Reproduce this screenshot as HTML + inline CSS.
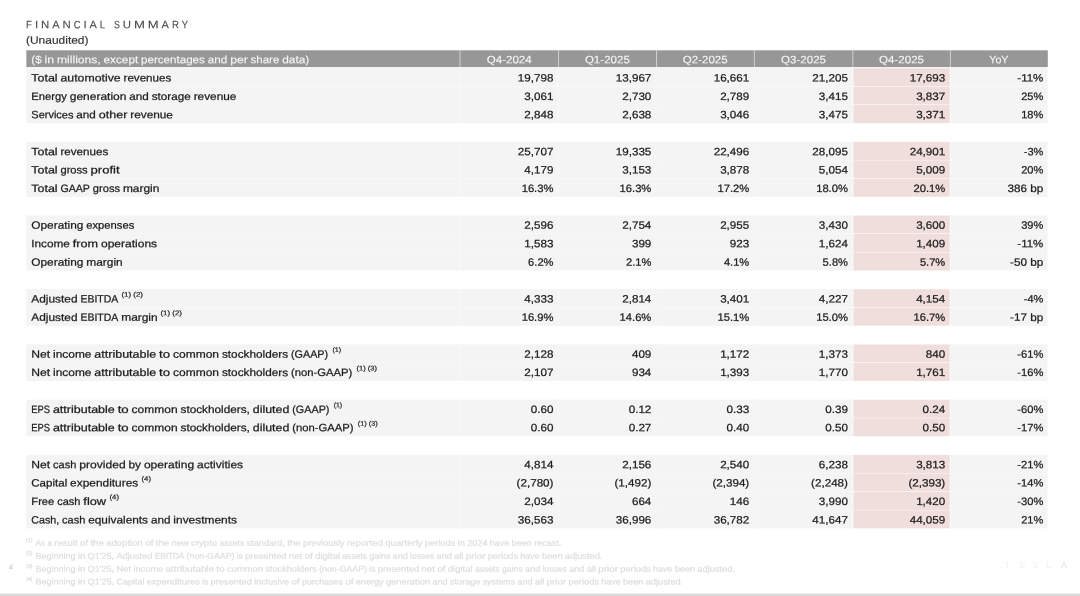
<!DOCTYPE html><html><head><meta charset="utf-8"><title>Financial Summary</title><style>
html,body{margin:0;padding:0;}
body{width:1080px;height:596px;background:#fff;position:relative;overflow:hidden;font-family:"Liberation Sans",sans-serif;color:#1b1b1b;}
.a{position:absolute;white-space:pre;}
.t{position:absolute;left:0;top:0;white-space:pre;height:16px;line-height:16px;transform-origin:0 0;-webkit-text-stroke:0.24px currentColor;text-rendering:geometricPrecision;}
</style></head><body>
<svg class="a" style="left:0;top:0" width="1080" height="596" viewBox="0 0 1080 596"><rect x="26.30" y="50.30" width="1021.50" height="16.80" fill="#979797"/><rect x="459.73" y="50.30" width="0.55" height="16.80" fill="#fff"/><rect x="558.12" y="50.30" width="0.55" height="16.80" fill="#fff"/><rect x="656.02" y="50.30" width="0.55" height="16.80" fill="#fff"/><rect x="753.93" y="50.30" width="0.55" height="16.80" fill="#fff"/><rect x="852.62" y="50.30" width="0.55" height="16.80" fill="#fff"/><rect x="949.93" y="50.30" width="0.55" height="16.80" fill="#fff"/><rect x="26.30" y="68.09" width="1021.20" height="18.24" fill="#f4f4f4"/><rect x="852.70" y="68.00" width="97.70" height="18.42" fill="#fff"/><rect x="853.40" y="68.22" width="96.30" height="17.97" fill="#efdedc"/><rect x="459.40" y="68.09" width="1.20" height="18.24" fill="#f7f7f7"/><rect x="557.80" y="68.09" width="1.20" height="18.24" fill="#f7f7f7"/><rect x="655.70" y="68.09" width="1.20" height="18.24" fill="#f7f7f7"/><rect x="753.60" y="68.09" width="1.20" height="18.24" fill="#f7f7f7"/><rect x="26.30" y="86.51" width="1021.20" height="18.24" fill="#f4f4f4"/><rect x="852.70" y="86.42" width="97.70" height="18.42" fill="#fff"/><rect x="853.40" y="86.64" width="96.30" height="17.97" fill="#efdedc"/><rect x="459.40" y="86.51" width="1.20" height="18.24" fill="#f7f7f7"/><rect x="557.80" y="86.51" width="1.20" height="18.24" fill="#f7f7f7"/><rect x="655.70" y="86.51" width="1.20" height="18.24" fill="#f7f7f7"/><rect x="753.60" y="86.51" width="1.20" height="18.24" fill="#f7f7f7"/><rect x="26.30" y="104.93" width="1021.20" height="18.24" fill="#f4f4f4"/><rect x="852.70" y="104.84" width="97.70" height="18.42" fill="#fff"/><rect x="853.40" y="105.06" width="96.30" height="17.97" fill="#efdedc"/><rect x="459.40" y="104.93" width="1.20" height="18.24" fill="#f7f7f7"/><rect x="557.80" y="104.93" width="1.20" height="18.24" fill="#f7f7f7"/><rect x="655.70" y="104.93" width="1.20" height="18.24" fill="#f7f7f7"/><rect x="753.60" y="104.93" width="1.20" height="18.24" fill="#f7f7f7"/><rect x="26.30" y="141.77" width="1021.20" height="18.24" fill="#f4f4f4"/><rect x="852.70" y="141.68" width="97.70" height="18.42" fill="#fff"/><rect x="853.40" y="141.91" width="96.30" height="17.97" fill="#efdedc"/><rect x="459.40" y="141.77" width="1.20" height="18.24" fill="#f7f7f7"/><rect x="557.80" y="141.77" width="1.20" height="18.24" fill="#f7f7f7"/><rect x="655.70" y="141.77" width="1.20" height="18.24" fill="#f7f7f7"/><rect x="753.60" y="141.77" width="1.20" height="18.24" fill="#f7f7f7"/><rect x="26.30" y="160.19" width="1021.20" height="18.24" fill="#f4f4f4"/><rect x="852.70" y="160.10" width="97.70" height="18.42" fill="#fff"/><rect x="853.40" y="160.33" width="96.30" height="17.97" fill="#efdedc"/><rect x="459.40" y="160.19" width="1.20" height="18.24" fill="#f7f7f7"/><rect x="557.80" y="160.19" width="1.20" height="18.24" fill="#f7f7f7"/><rect x="655.70" y="160.19" width="1.20" height="18.24" fill="#f7f7f7"/><rect x="753.60" y="160.19" width="1.20" height="18.24" fill="#f7f7f7"/><rect x="26.30" y="178.61" width="1021.20" height="18.24" fill="#f4f4f4"/><rect x="852.70" y="178.52" width="97.70" height="18.42" fill="#fff"/><rect x="853.40" y="178.75" width="96.30" height="17.97" fill="#efdedc"/><rect x="459.40" y="178.61" width="1.20" height="18.24" fill="#f7f7f7"/><rect x="557.80" y="178.61" width="1.20" height="18.24" fill="#f7f7f7"/><rect x="655.70" y="178.61" width="1.20" height="18.24" fill="#f7f7f7"/><rect x="753.60" y="178.61" width="1.20" height="18.24" fill="#f7f7f7"/><rect x="26.30" y="215.45" width="1021.20" height="18.24" fill="#f4f4f4"/><rect x="852.70" y="215.36" width="97.70" height="18.42" fill="#fff"/><rect x="853.40" y="215.59" width="96.30" height="17.97" fill="#efdedc"/><rect x="459.40" y="215.45" width="1.20" height="18.24" fill="#f7f7f7"/><rect x="557.80" y="215.45" width="1.20" height="18.24" fill="#f7f7f7"/><rect x="655.70" y="215.45" width="1.20" height="18.24" fill="#f7f7f7"/><rect x="753.60" y="215.45" width="1.20" height="18.24" fill="#f7f7f7"/><rect x="26.30" y="233.87" width="1021.20" height="18.24" fill="#f4f4f4"/><rect x="852.70" y="233.78" width="97.70" height="18.42" fill="#fff"/><rect x="853.40" y="234.01" width="96.30" height="17.97" fill="#efdedc"/><rect x="459.40" y="233.87" width="1.20" height="18.24" fill="#f7f7f7"/><rect x="557.80" y="233.87" width="1.20" height="18.24" fill="#f7f7f7"/><rect x="655.70" y="233.87" width="1.20" height="18.24" fill="#f7f7f7"/><rect x="753.60" y="233.87" width="1.20" height="18.24" fill="#f7f7f7"/><rect x="26.30" y="252.29" width="1021.20" height="18.24" fill="#f4f4f4"/><rect x="852.70" y="252.20" width="97.70" height="18.42" fill="#fff"/><rect x="853.40" y="252.43" width="96.30" height="17.97" fill="#efdedc"/><rect x="459.40" y="252.29" width="1.20" height="18.24" fill="#f7f7f7"/><rect x="557.80" y="252.29" width="1.20" height="18.24" fill="#f7f7f7"/><rect x="655.70" y="252.29" width="1.20" height="18.24" fill="#f7f7f7"/><rect x="753.60" y="252.29" width="1.20" height="18.24" fill="#f7f7f7"/><rect x="26.30" y="289.13" width="1021.20" height="18.24" fill="#f4f4f4"/><rect x="852.70" y="289.04" width="97.70" height="18.42" fill="#fff"/><rect x="853.40" y="289.27" width="96.30" height="17.97" fill="#efdedc"/><rect x="459.40" y="289.13" width="1.20" height="18.24" fill="#f7f7f7"/><rect x="557.80" y="289.13" width="1.20" height="18.24" fill="#f7f7f7"/><rect x="655.70" y="289.13" width="1.20" height="18.24" fill="#f7f7f7"/><rect x="753.60" y="289.13" width="1.20" height="18.24" fill="#f7f7f7"/><rect x="26.30" y="307.55" width="1021.20" height="18.24" fill="#f4f4f4"/><rect x="852.70" y="307.46" width="97.70" height="18.42" fill="#fff"/><rect x="853.40" y="307.69" width="96.30" height="17.97" fill="#efdedc"/><rect x="459.40" y="307.55" width="1.20" height="18.24" fill="#f7f7f7"/><rect x="557.80" y="307.55" width="1.20" height="18.24" fill="#f7f7f7"/><rect x="655.70" y="307.55" width="1.20" height="18.24" fill="#f7f7f7"/><rect x="753.60" y="307.55" width="1.20" height="18.24" fill="#f7f7f7"/><rect x="26.30" y="344.39" width="1021.20" height="18.24" fill="#f4f4f4"/><rect x="852.70" y="344.30" width="97.70" height="18.42" fill="#fff"/><rect x="853.40" y="344.53" width="96.30" height="17.97" fill="#efdedc"/><rect x="459.40" y="344.39" width="1.20" height="18.24" fill="#f7f7f7"/><rect x="557.80" y="344.39" width="1.20" height="18.24" fill="#f7f7f7"/><rect x="655.70" y="344.39" width="1.20" height="18.24" fill="#f7f7f7"/><rect x="753.60" y="344.39" width="1.20" height="18.24" fill="#f7f7f7"/><rect x="26.30" y="362.81" width="1021.20" height="18.24" fill="#f4f4f4"/><rect x="852.70" y="362.72" width="97.70" height="18.42" fill="#fff"/><rect x="853.40" y="362.95" width="96.30" height="17.97" fill="#efdedc"/><rect x="459.40" y="362.81" width="1.20" height="18.24" fill="#f7f7f7"/><rect x="557.80" y="362.81" width="1.20" height="18.24" fill="#f7f7f7"/><rect x="655.70" y="362.81" width="1.20" height="18.24" fill="#f7f7f7"/><rect x="753.60" y="362.81" width="1.20" height="18.24" fill="#f7f7f7"/><rect x="26.30" y="399.65" width="1021.20" height="18.24" fill="#f4f4f4"/><rect x="852.70" y="399.56" width="97.70" height="18.42" fill="#fff"/><rect x="853.40" y="399.79" width="96.30" height="17.97" fill="#efdedc"/><rect x="459.40" y="399.65" width="1.20" height="18.24" fill="#f7f7f7"/><rect x="557.80" y="399.65" width="1.20" height="18.24" fill="#f7f7f7"/><rect x="655.70" y="399.65" width="1.20" height="18.24" fill="#f7f7f7"/><rect x="753.60" y="399.65" width="1.20" height="18.24" fill="#f7f7f7"/><rect x="26.30" y="418.07" width="1021.20" height="18.24" fill="#f4f4f4"/><rect x="852.70" y="417.98" width="97.70" height="18.42" fill="#fff"/><rect x="853.40" y="418.21" width="96.30" height="17.97" fill="#efdedc"/><rect x="459.40" y="418.07" width="1.20" height="18.24" fill="#f7f7f7"/><rect x="557.80" y="418.07" width="1.20" height="18.24" fill="#f7f7f7"/><rect x="655.70" y="418.07" width="1.20" height="18.24" fill="#f7f7f7"/><rect x="753.60" y="418.07" width="1.20" height="18.24" fill="#f7f7f7"/><rect x="26.30" y="454.91" width="1021.20" height="18.24" fill="#f4f4f4"/><rect x="852.70" y="454.82" width="97.70" height="18.42" fill="#fff"/><rect x="853.40" y="455.05" width="96.30" height="17.97" fill="#efdedc"/><rect x="459.40" y="454.91" width="1.20" height="18.24" fill="#f7f7f7"/><rect x="557.80" y="454.91" width="1.20" height="18.24" fill="#f7f7f7"/><rect x="655.70" y="454.91" width="1.20" height="18.24" fill="#f7f7f7"/><rect x="753.60" y="454.91" width="1.20" height="18.24" fill="#f7f7f7"/><rect x="26.30" y="473.33" width="1021.20" height="18.24" fill="#f4f4f4"/><rect x="852.70" y="473.24" width="97.70" height="18.42" fill="#fff"/><rect x="853.40" y="473.47" width="96.30" height="17.97" fill="#efdedc"/><rect x="459.40" y="473.33" width="1.20" height="18.24" fill="#f7f7f7"/><rect x="557.80" y="473.33" width="1.20" height="18.24" fill="#f7f7f7"/><rect x="655.70" y="473.33" width="1.20" height="18.24" fill="#f7f7f7"/><rect x="753.60" y="473.33" width="1.20" height="18.24" fill="#f7f7f7"/><rect x="26.30" y="491.75" width="1021.20" height="18.24" fill="#f4f4f4"/><rect x="852.70" y="491.66" width="97.70" height="18.42" fill="#fff"/><rect x="853.40" y="491.89" width="96.30" height="17.97" fill="#efdedc"/><rect x="459.40" y="491.75" width="1.20" height="18.24" fill="#f7f7f7"/><rect x="557.80" y="491.75" width="1.20" height="18.24" fill="#f7f7f7"/><rect x="655.70" y="491.75" width="1.20" height="18.24" fill="#f7f7f7"/><rect x="753.60" y="491.75" width="1.20" height="18.24" fill="#f7f7f7"/><rect x="26.30" y="510.17" width="1021.20" height="18.24" fill="#f4f4f4"/><rect x="852.70" y="510.08" width="97.70" height="18.42" fill="#fff"/><rect x="853.40" y="510.31" width="96.30" height="17.97" fill="#efdedc"/><rect x="459.40" y="510.17" width="1.20" height="18.24" fill="#f7f7f7"/><rect x="557.80" y="510.17" width="1.20" height="18.24" fill="#f7f7f7"/><rect x="655.70" y="510.17" width="1.20" height="18.24" fill="#f7f7f7"/><rect x="753.60" y="510.17" width="1.20" height="18.24" fill="#f7f7f7"/><rect x="0.00" y="593.50" width="1080.00" height="2.50" fill="#dbdbdb"/></svg>
<div class="a" id="txt" style="left:0;top:0;width:1080px;height:596px;will-change:transform;filter:blur(0.35px)">
<div class="t" style="font-size:10.7px;transform:translate(26.10px,17.24px) scaleX(0.8991) rotate(0.03deg);color:#484848;-webkit-text-stroke:0.1px currentColor;">F</div>
<div class="t" style="font-size:10.7px;transform:translate(34.89px,17.24px) scaleX(1.0789) rotate(0.03deg);color:#484848;-webkit-text-stroke:0.1px currentColor;">I</div>
<div class="t" style="font-size:10.7px;transform:translate(41.03px,17.24px) scaleX(1.0688) rotate(0.03deg);color:#484848;-webkit-text-stroke:0.1px currentColor;">N</div>
<div class="t" style="font-size:10.7px;transform:translate(52.20px,17.24px) scaleX(1.0356) rotate(0.03deg);color:#484848;-webkit-text-stroke:0.1px currentColor;">A</div>
<div class="t" style="font-size:10.7px;transform:translate(62.52px,17.24px) scaleX(1.0688) rotate(0.03deg);color:#484848;-webkit-text-stroke:0.1px currentColor;">N</div>
<div class="t" style="font-size:10.7px;transform:translate(73.69px,17.24px) scaleX(0.8828) rotate(0.03deg);color:#484848;-webkit-text-stroke:0.1px currentColor;">C</div>
<div class="t" style="font-size:10.7px;transform:translate(83.42px,17.24px) scaleX(1.0789) rotate(0.03deg);color:#484848;-webkit-text-stroke:0.1px currentColor;">I</div>
<div class="t" style="font-size:10.7px;transform:translate(89.56px,17.24px) scaleX(1.0356) rotate(0.03deg);color:#484848;-webkit-text-stroke:0.1px currentColor;">A</div>
<div class="t" style="font-size:10.7px;transform:translate(99.87px,17.24px) scaleX(0.9025) rotate(0.03deg);color:#484848;-webkit-text-stroke:0.1px currentColor;">L</div>
<div class="t" style="font-size:10.7px;transform:translate(113.98px,17.24px) scaleX(0.8223) rotate(0.03deg);color:#484848;-webkit-text-stroke:0.1px currentColor;">S</div>
<div class="t" style="font-size:10.7px;transform:translate(122.77px,17.24px) scaleX(1.0623) rotate(0.03deg);color:#484848;-webkit-text-stroke:0.1px currentColor;">U</div>
<div class="t" style="font-size:10.7px;transform:translate(133.89px,17.24px) scaleX(1.2269) rotate(0.03deg);color:#484848;-webkit-text-stroke:0.1px currentColor;">M</div>
<div class="t" style="font-size:10.7px;transform:translate(147.74px,17.24px) scaleX(1.2269) rotate(0.03deg);color:#484848;-webkit-text-stroke:0.1px currentColor;">M</div>
<div class="t" style="font-size:10.7px;transform:translate(161.58px,17.24px) scaleX(1.0356) rotate(0.03deg);color:#484848;-webkit-text-stroke:0.1px currentColor;">A</div>
<div class="t" style="font-size:10.7px;transform:translate(171.90px,17.24px) scaleX(0.8990) rotate(0.03deg);color:#484848;-webkit-text-stroke:0.1px currentColor;">R</div>
<div class="t" style="font-size:10.7px;transform:translate(181.76px,17.24px) scaleX(0.8722) rotate(0.03deg);color:#484848;-webkit-text-stroke:0.1px currentColor;">Y</div>
<div class="t" style="font-size:10.7px;transform:translate(26.00px,32.64px) scaleX(1.1192) rotate(0.03deg);color:#303030;-webkit-text-stroke:0.15px currentColor;">(Unaudited)</div>
<div class="t" style="font-size:10.7px;transform:translate(31.30px,52.19px) scaleX(1.0880) rotate(0.03deg);color:#f6f6f6;-webkit-text-stroke:0.12px currentColor;">($</div>
<div class="t" style="font-size:10.7px;transform:translate(44.54px,52.19px) scaleX(1.1584) rotate(0.03deg);color:#f6f6f6;-webkit-text-stroke:0.12px currentColor;">in</div>
<div class="t" style="font-size:10.7px;transform:translate(57.08px,52.19px) scaleX(1.1288) rotate(0.03deg);color:#f6f6f6;-webkit-text-stroke:0.12px currentColor;">millions,</div>
<div class="t" style="font-size:10.7px;transform:translate(103.55px,52.19px) scaleX(1.1001) rotate(0.03deg);color:#f6f6f6;-webkit-text-stroke:0.12px currentColor;">except</div>
<div class="t" style="font-size:10.7px;transform:translate(141.09px,52.19px) scaleX(1.0842) rotate(0.03deg);color:#f6f6f6;-webkit-text-stroke:0.12px currentColor;">percentages</div>
<div class="t" style="font-size:10.7px;transform:translate(207.76px,52.19px) scaleX(1.0957) rotate(0.03deg);color:#f6f6f6;-webkit-text-stroke:0.12px currentColor;">and</div>
<div class="t" style="font-size:10.7px;transform:translate(230.20px,52.19px) scaleX(1.1343) rotate(0.03deg);color:#f6f6f6;-webkit-text-stroke:0.12px currentColor;">per</div>
<div class="t" style="font-size:10.7px;transform:translate(250.62px,52.19px) scaleX(1.0710) rotate(0.03deg);color:#f6f6f6;-webkit-text-stroke:0.12px currentColor;">share</div>
<div class="t" style="font-size:10.7px;transform:translate(282.16px,52.19px) scaleX(1.1124) rotate(0.03deg);color:#f6f6f6;-webkit-text-stroke:0.12px currentColor;">data)</div>
<div class="t" style="font-size:10.7px;transform:translate(486.75px,52.19px) scaleX(1.0795) rotate(0.03deg);color:#f6f6f6;-webkit-text-stroke:0.12px currentColor;">Q4-2024</div>
<div class="t" style="font-size:10.7px;transform:translate(584.90px,52.19px) scaleX(1.0795) rotate(0.03deg);color:#f6f6f6;-webkit-text-stroke:0.12px currentColor;">Q1-2025</div>
<div class="t" style="font-size:10.7px;transform:translate(682.80px,52.19px) scaleX(1.0795) rotate(0.03deg);color:#f6f6f6;-webkit-text-stroke:0.12px currentColor;">Q2-2025</div>
<div class="t" style="font-size:10.7px;transform:translate(781.10px,52.19px) scaleX(1.0795) rotate(0.03deg);color:#f6f6f6;-webkit-text-stroke:0.12px currentColor;">Q3-2025</div>
<div class="t" style="font-size:10.7px;transform:translate(879.10px,52.19px) scaleX(1.0795) rotate(0.03deg);color:#f6f6f6;-webkit-text-stroke:0.12px currentColor;">Q4-2025</div>
<div class="t" style="font-size:10.7px;transform:translate(989.25px,52.19px) scaleX(0.9988) rotate(0.03deg);color:#f6f6f6;-webkit-text-stroke:0.12px currentColor;">YoY</div>
<div class="t" style="font-size:10.7px;transform:translate(31.30px,70.54px) scaleX(1.1650) rotate(0.03deg);">Total</div>
<div class="t" style="font-size:10.7px;transform:translate(60.49px,70.54px) scaleX(1.1505) rotate(0.03deg);">automotive</div>
<div class="t" style="font-size:10.7px;transform:translate(123.53px,70.54px) scaleX(1.0856) rotate(0.03deg);">revenues</div>
<div class="t" style="font-size:10.7px;transform:translate(517.87px,70.54px) scaleX(1.0878) rotate(0.03deg);">19,798</div>
<div class="t" style="font-size:10.7px;transform:translate(615.77px,70.54px) scaleX(1.0878) rotate(0.03deg);">13,967</div>
<div class="t" style="font-size:10.7px;transform:translate(713.67px,70.54px) scaleX(1.0878) rotate(0.03deg);">16,661</div>
<div class="t" style="font-size:10.7px;transform:translate(812.37px,70.54px) scaleX(1.0878) rotate(0.03deg);">21,205</div>
<div class="t" style="font-size:10.7px;transform:translate(909.67px,70.54px) scaleX(1.0878) rotate(0.03deg);">17,693</div>
<div class="t" style="font-size:10.7px;transform:translate(1017.30px,70.54px) scaleX(1.0765) rotate(0.03deg);">-11%</div>
<div class="t" style="font-size:10.7px;transform:translate(31.30px,88.95px) scaleX(1.0500) rotate(0.03deg);">Energy</div>
<div class="t" style="font-size:10.7px;transform:translate(69.76px,88.95px) scaleX(1.1223) rotate(0.03deg);">generation</div>
<div class="t" style="font-size:10.7px;transform:translate(129.34px,88.95px) scaleX(1.0957) rotate(0.03deg);">and</div>
<div class="t" style="font-size:10.7px;transform:translate(151.78px,88.95px) scaleX(1.0929) rotate(0.03deg);">storage</div>
<div class="t" style="font-size:10.7px;transform:translate(193.64px,88.95px) scaleX(1.1064) rotate(0.03deg);">revenue</div>
<div class="t" style="font-size:10.7px;transform:translate(524.35px,88.95px) scaleX(1.0878) rotate(0.03deg);">3,061</div>
<div class="t" style="font-size:10.7px;transform:translate(622.25px,88.95px) scaleX(1.0878) rotate(0.03deg);">2,730</div>
<div class="t" style="font-size:10.7px;transform:translate(720.15px,88.95px) scaleX(1.0878) rotate(0.03deg);">2,789</div>
<div class="t" style="font-size:10.7px;transform:translate(818.85px,88.95px) scaleX(1.0878) rotate(0.03deg);">3,415</div>
<div class="t" style="font-size:10.7px;transform:translate(916.15px,88.95px) scaleX(1.0878) rotate(0.03deg);">3,837</div>
<div class="t" style="font-size:10.7px;transform:translate(1021.21px,88.95px) scaleX(1.0320) rotate(0.03deg);">25%</div>
<div class="t" style="font-size:10.7px;transform:translate(31.30px,107.36px) scaleX(1.0285) rotate(0.03deg);">Services</div>
<div class="t" style="font-size:10.7px;transform:translate(76.34px,107.36px) scaleX(1.0957) rotate(0.03deg);">and</div>
<div class="t" style="font-size:10.7px;transform:translate(98.78px,107.36px) scaleX(1.1712) rotate(0.03deg);">other</div>
<div class="t" style="font-size:10.7px;transform:translate(130.22px,107.36px) scaleX(1.1064) rotate(0.03deg);">revenue</div>
<div class="t" style="font-size:10.7px;transform:translate(524.35px,107.36px) scaleX(1.0878) rotate(0.03deg);">2,848</div>
<div class="t" style="font-size:10.7px;transform:translate(622.25px,107.36px) scaleX(1.0878) rotate(0.03deg);">2,638</div>
<div class="t" style="font-size:10.7px;transform:translate(720.15px,107.36px) scaleX(1.0878) rotate(0.03deg);">3,046</div>
<div class="t" style="font-size:10.7px;transform:translate(818.85px,107.36px) scaleX(1.0878) rotate(0.03deg);">3,475</div>
<div class="t" style="font-size:10.7px;transform:translate(916.15px,107.36px) scaleX(1.0878) rotate(0.03deg);">3,371</div>
<div class="t" style="font-size:10.7px;transform:translate(1021.21px,107.36px) scaleX(1.0320) rotate(0.03deg);">18%</div>
<div class="t" style="font-size:10.7px;transform:translate(31.30px,144.18px) scaleX(1.1650) rotate(0.03deg);">Total</div>
<div class="t" style="font-size:10.7px;transform:translate(60.49px,144.18px) scaleX(1.0856) rotate(0.03deg);">revenues</div>
<div class="t" style="font-size:10.7px;transform:translate(517.87px,144.18px) scaleX(1.0878) rotate(0.03deg);">25,707</div>
<div class="t" style="font-size:10.7px;transform:translate(615.77px,144.18px) scaleX(1.0878) rotate(0.03deg);">19,335</div>
<div class="t" style="font-size:10.7px;transform:translate(713.67px,144.18px) scaleX(1.0878) rotate(0.03deg);">22,496</div>
<div class="t" style="font-size:10.7px;transform:translate(812.37px,144.18px) scaleX(1.0878) rotate(0.03deg);">28,095</div>
<div class="t" style="font-size:10.7px;transform:translate(909.67px,144.18px) scaleX(1.0878) rotate(0.03deg);">24,901</div>
<div class="t" style="font-size:10.7px;transform:translate(1023.77px,144.18px) scaleX(1.0268) rotate(0.03deg);">-3%</div>
<div class="t" style="font-size:10.7px;transform:translate(31.30px,162.59px) scaleX(1.1650) rotate(0.03deg);">Total</div>
<div class="t" style="font-size:10.7px;transform:translate(60.49px,162.59px) scaleX(1.0408) rotate(0.03deg);">gross</div>
<div class="t" style="font-size:10.7px;transform:translate(90.59px,162.59px) scaleX(1.2212) rotate(0.03deg);">profit</div>
<div class="t" style="font-size:10.7px;transform:translate(524.35px,162.59px) scaleX(1.0878) rotate(0.03deg);">4,179</div>
<div class="t" style="font-size:10.7px;transform:translate(622.25px,162.59px) scaleX(1.0878) rotate(0.03deg);">3,153</div>
<div class="t" style="font-size:10.7px;transform:translate(720.15px,162.59px) scaleX(1.0878) rotate(0.03deg);">3,878</div>
<div class="t" style="font-size:10.7px;transform:translate(818.85px,162.59px) scaleX(1.0878) rotate(0.03deg);">5,054</div>
<div class="t" style="font-size:10.7px;transform:translate(916.15px,162.59px) scaleX(1.0878) rotate(0.03deg);">5,009</div>
<div class="t" style="font-size:10.7px;transform:translate(1021.21px,162.59px) scaleX(1.0320) rotate(0.03deg);">20%</div>
<div class="t" style="font-size:10.7px;transform:translate(31.30px,181.00px) scaleX(1.1650) rotate(0.03deg);">Total</div>
<div class="t" style="font-size:10.7px;transform:translate(60.49px,181.00px) scaleX(0.9916) rotate(0.03deg);">GAAP</div>
<div class="t" style="font-size:10.7px;transform:translate(92.83px,181.00px) scaleX(1.0408) rotate(0.03deg);">gross</div>
<div class="t" style="font-size:10.7px;transform:translate(122.93px,181.00px) scaleX(1.1156) rotate(0.03deg);">margin</div>
<div class="t" style="font-size:10.7px;transform:translate(521.66px,181.00px) scaleX(1.0489) rotate(0.03deg);">16.3%</div>
<div class="t" style="font-size:10.7px;transform:translate(619.56px,181.00px) scaleX(1.0489) rotate(0.03deg);">16.3%</div>
<div class="t" style="font-size:10.7px;transform:translate(717.46px,181.00px) scaleX(1.0489) rotate(0.03deg);">17.2%</div>
<div class="t" style="font-size:10.7px;transform:translate(816.16px,181.00px) scaleX(1.0489) rotate(0.03deg);">18.0%</div>
<div class="t" style="font-size:10.7px;transform:translate(913.46px,181.00px) scaleX(1.0489) rotate(0.03deg);">20.1%</div>
<div class="t" style="font-size:10.7px;transform:translate(1007.55px,181.00px) scaleX(1.0932) rotate(0.03deg);">386 bp</div>
<div class="t" style="font-size:10.7px;transform:translate(31.30px,217.82px) scaleX(1.1091) rotate(0.03deg);">Operating</div>
<div class="t" style="font-size:10.7px;transform:translate(86.25px,217.82px) scaleX(1.0496) rotate(0.03deg);">expenses</div>
<div class="t" style="font-size:10.7px;transform:translate(524.35px,217.82px) scaleX(1.0878) rotate(0.03deg);">2,596</div>
<div class="t" style="font-size:10.7px;transform:translate(622.25px,217.82px) scaleX(1.0878) rotate(0.03deg);">2,754</div>
<div class="t" style="font-size:10.7px;transform:translate(720.15px,217.82px) scaleX(1.0878) rotate(0.03deg);">2,955</div>
<div class="t" style="font-size:10.7px;transform:translate(818.85px,217.82px) scaleX(1.0878) rotate(0.03deg);">3,430</div>
<div class="t" style="font-size:10.7px;transform:translate(916.15px,217.82px) scaleX(1.0878) rotate(0.03deg);">3,600</div>
<div class="t" style="font-size:10.7px;transform:translate(1021.21px,217.82px) scaleX(1.0320) rotate(0.03deg);">39%</div>
<div class="t" style="font-size:10.7px;transform:translate(31.30px,236.23px) scaleX(1.1022) rotate(0.03deg);">Income</div>
<div class="t" style="font-size:10.7px;transform:translate(72.83px,236.23px) scaleX(1.1838) rotate(0.03deg);">from</div>
<div class="t" style="font-size:10.7px;transform:translate(101.03px,236.23px) scaleX(1.1229) rotate(0.03deg);">operations</div>
<div class="t" style="font-size:10.7px;transform:translate(524.35px,236.23px) scaleX(1.0878) rotate(0.03deg);">1,583</div>
<div class="t" style="font-size:10.7px;transform:translate(631.92px,236.23px) scaleX(1.0890) rotate(0.03deg);">399</div>
<div class="t" style="font-size:10.7px;transform:translate(729.82px,236.23px) scaleX(1.0890) rotate(0.03deg);">923</div>
<div class="t" style="font-size:10.7px;transform:translate(818.85px,236.23px) scaleX(1.0878) rotate(0.03deg);">1,624</div>
<div class="t" style="font-size:10.7px;transform:translate(916.15px,236.23px) scaleX(1.0878) rotate(0.03deg);">1,409</div>
<div class="t" style="font-size:10.7px;transform:translate(1017.30px,236.23px) scaleX(1.0765) rotate(0.03deg);">-11%</div>
<div class="t" style="font-size:10.7px;transform:translate(31.30px,254.64px) scaleX(1.1091) rotate(0.03deg);">Operating</div>
<div class="t" style="font-size:10.7px;transform:translate(86.25px,254.64px) scaleX(1.1156) rotate(0.03deg);">margin</div>
<div class="t" style="font-size:10.7px;transform:translate(528.13px,254.64px) scaleX(1.0386) rotate(0.03deg);">6.2%</div>
<div class="t" style="font-size:10.7px;transform:translate(626.03px,254.64px) scaleX(1.0386) rotate(0.03deg);">2.1%</div>
<div class="t" style="font-size:10.7px;transform:translate(723.93px,254.64px) scaleX(1.0386) rotate(0.03deg);">4.1%</div>
<div class="t" style="font-size:10.7px;transform:translate(822.63px,254.64px) scaleX(1.0386) rotate(0.03deg);">5.8%</div>
<div class="t" style="font-size:10.7px;transform:translate(919.93px,254.64px) scaleX(1.0386) rotate(0.03deg);">5.7%</div>
<div class="t" style="font-size:10.7px;transform:translate(1010.11px,254.64px) scaleX(1.0948) rotate(0.03deg);">-50 bp</div>
<div class="t" style="font-size:10.7px;transform:translate(31.30px,291.46px) scaleX(1.1116) rotate(0.03deg);">Adjusted</div>
<div class="t" style="font-size:10.7px;transform:translate(80.42px,291.46px) scaleX(0.9815) rotate(0.03deg);">EBITDA</div>
<div class="t" style="font-size:6.7px;transform:translate(121.50px,287.85px) scaleX(1.1801) rotate(0.03deg);color:#2a2a2a;">(1) (2)</div>
<div class="t" style="font-size:10.7px;transform:translate(524.35px,291.46px) scaleX(1.0878) rotate(0.03deg);">4,333</div>
<div class="t" style="font-size:10.7px;transform:translate(622.25px,291.46px) scaleX(1.0878) rotate(0.03deg);">2,814</div>
<div class="t" style="font-size:10.7px;transform:translate(720.15px,291.46px) scaleX(1.0878) rotate(0.03deg);">3,401</div>
<div class="t" style="font-size:10.7px;transform:translate(818.85px,291.46px) scaleX(1.0878) rotate(0.03deg);">4,227</div>
<div class="t" style="font-size:10.7px;transform:translate(916.15px,291.46px) scaleX(1.0878) rotate(0.03deg);">4,154</div>
<div class="t" style="font-size:10.7px;transform:translate(1023.77px,291.46px) scaleX(1.0268) rotate(0.03deg);">-4%</div>
<div class="t" style="font-size:10.7px;transform:translate(31.30px,309.87px) scaleX(1.1116) rotate(0.03deg);">Adjusted</div>
<div class="t" style="font-size:10.7px;transform:translate(80.42px,309.87px) scaleX(0.9815) rotate(0.03deg);">EBITDA</div>
<div class="t" style="font-size:10.7px;transform:translate(121.21px,309.87px) scaleX(1.1156) rotate(0.03deg);">margin</div>
<div class="t" style="font-size:6.7px;transform:translate(160.50px,306.26px) scaleX(1.1801) rotate(0.03deg);color:#2a2a2a;">(1) (2)</div>
<div class="t" style="font-size:10.7px;transform:translate(521.66px,309.87px) scaleX(1.0489) rotate(0.03deg);">16.9%</div>
<div class="t" style="font-size:10.7px;transform:translate(619.56px,309.87px) scaleX(1.0489) rotate(0.03deg);">14.6%</div>
<div class="t" style="font-size:10.7px;transform:translate(717.46px,309.87px) scaleX(1.0489) rotate(0.03deg);">15.1%</div>
<div class="t" style="font-size:10.7px;transform:translate(816.16px,309.87px) scaleX(1.0489) rotate(0.03deg);">15.0%</div>
<div class="t" style="font-size:10.7px;transform:translate(913.46px,309.87px) scaleX(1.0489) rotate(0.03deg);">16.7%</div>
<div class="t" style="font-size:10.7px;transform:translate(1010.11px,309.87px) scaleX(1.0948) rotate(0.03deg);">-17 bp</div>
<div class="t" style="font-size:10.7px;transform:translate(31.30px,346.69px) scaleX(1.1351) rotate(0.03deg);">Net</div>
<div class="t" style="font-size:10.7px;transform:translate(53.08px,346.69px) scaleX(1.1134) rotate(0.03deg);">income</div>
<div class="t" style="font-size:10.7px;transform:translate(94.33px,346.69px) scaleX(1.1705) rotate(0.03deg);">attributable</div>
<div class="t" style="font-size:10.7px;transform:translate(159.12px,346.69px) scaleX(1.2352) rotate(0.03deg);">to</div>
<div class="t" style="font-size:10.7px;transform:translate(173.03px,346.69px) scaleX(1.1228) rotate(0.03deg);">common</div>
<div class="t" style="font-size:10.7px;transform:translate(221.94px,346.69px) scaleX(1.1024) rotate(0.03deg);">stockholders</div>
<div class="t" style="font-size:10.7px;transform:translate(290.97px,346.69px) scaleX(1.0102) rotate(0.03deg);">(GAAP)</div>
<div class="t" style="font-size:6.7px;transform:translate(332.40px,343.08px) scaleX(1.0626) rotate(0.03deg);color:#2a2a2a;">(1)</div>
<div class="t" style="font-size:10.7px;transform:translate(524.35px,346.69px) scaleX(1.0878) rotate(0.03deg);">2,128</div>
<div class="t" style="font-size:10.7px;transform:translate(631.92px,346.69px) scaleX(1.0890) rotate(0.03deg);">409</div>
<div class="t" style="font-size:10.7px;transform:translate(720.15px,346.69px) scaleX(1.0878) rotate(0.03deg);">1,172</div>
<div class="t" style="font-size:10.7px;transform:translate(818.85px,346.69px) scaleX(1.0878) rotate(0.03deg);">1,373</div>
<div class="t" style="font-size:10.7px;transform:translate(925.82px,346.69px) scaleX(1.0890) rotate(0.03deg);">840</div>
<div class="t" style="font-size:10.7px;transform:translate(1017.30px,346.69px) scaleX(1.0421) rotate(0.03deg);">-61%</div>
<div class="t" style="font-size:10.7px;transform:translate(31.30px,365.10px) scaleX(1.1351) rotate(0.03deg);">Net</div>
<div class="t" style="font-size:10.7px;transform:translate(53.08px,365.10px) scaleX(1.1134) rotate(0.03deg);">income</div>
<div class="t" style="font-size:10.7px;transform:translate(94.33px,365.10px) scaleX(1.1705) rotate(0.03deg);">attributable</div>
<div class="t" style="font-size:10.7px;transform:translate(159.12px,365.10px) scaleX(1.2352) rotate(0.03deg);">to</div>
<div class="t" style="font-size:10.7px;transform:translate(173.03px,365.10px) scaleX(1.1228) rotate(0.03deg);">common</div>
<div class="t" style="font-size:10.7px;transform:translate(221.94px,365.10px) scaleX(1.1024) rotate(0.03deg);">stockholders</div>
<div class="t" style="font-size:10.7px;transform:translate(290.97px,365.10px) scaleX(1.0527) rotate(0.03deg);">(non-GAAP)</div>
<div class="t" style="font-size:6.7px;transform:translate(356.50px,361.49px) scaleX(1.1197) rotate(0.03deg);color:#2a2a2a;">(1) (3)</div>
<div class="t" style="font-size:10.7px;transform:translate(524.35px,365.10px) scaleX(1.0878) rotate(0.03deg);">2,107</div>
<div class="t" style="font-size:10.7px;transform:translate(631.92px,365.10px) scaleX(1.0890) rotate(0.03deg);">934</div>
<div class="t" style="font-size:10.7px;transform:translate(720.15px,365.10px) scaleX(1.0878) rotate(0.03deg);">1,393</div>
<div class="t" style="font-size:10.7px;transform:translate(818.85px,365.10px) scaleX(1.0878) rotate(0.03deg);">1,770</div>
<div class="t" style="font-size:10.7px;transform:translate(916.15px,365.10px) scaleX(1.0878) rotate(0.03deg);">1,761</div>
<div class="t" style="font-size:10.7px;transform:translate(1017.30px,365.10px) scaleX(1.0421) rotate(0.03deg);">-16%</div>
<div class="t" style="font-size:10.7px;transform:translate(31.30px,401.92px) scaleX(0.8749) rotate(0.03deg);">EPS</div>
<div class="t" style="font-size:10.7px;transform:translate(52.90px,401.92px) scaleX(1.1705) rotate(0.03deg);">attributable</div>
<div class="t" style="font-size:10.7px;transform:translate(117.70px,401.92px) scaleX(1.2352) rotate(0.03deg);">to</div>
<div class="t" style="font-size:10.7px;transform:translate(131.61px,401.92px) scaleX(1.1228) rotate(0.03deg);">common</div>
<div class="t" style="font-size:10.7px;transform:translate(180.52px,401.92px) scaleX(1.1011) rotate(0.03deg);">stockholders,</div>
<div class="t" style="font-size:10.7px;transform:translate(252.74px,401.92px) scaleX(1.1635) rotate(0.03deg);">diluted</div>
<div class="t" style="font-size:10.7px;transform:translate(292.28px,401.92px) scaleX(1.0102) rotate(0.03deg);">(GAAP)</div>
<div class="t" style="font-size:6.7px;transform:translate(333.70px,398.31px) scaleX(1.0382) rotate(0.03deg);color:#2a2a2a;">(1)</div>
<div class="t" style="font-size:10.7px;transform:translate(530.79px,401.92px) scaleX(1.0887) rotate(0.03deg);">0.60</div>
<div class="t" style="font-size:10.7px;transform:translate(628.69px,401.92px) scaleX(1.0887) rotate(0.03deg);">0.12</div>
<div class="t" style="font-size:10.7px;transform:translate(726.59px,401.92px) scaleX(1.0887) rotate(0.03deg);">0.33</div>
<div class="t" style="font-size:10.7px;transform:translate(825.29px,401.92px) scaleX(1.0887) rotate(0.03deg);">0.39</div>
<div class="t" style="font-size:10.7px;transform:translate(922.59px,401.92px) scaleX(1.0887) rotate(0.03deg);">0.24</div>
<div class="t" style="font-size:10.7px;transform:translate(1017.30px,401.92px) scaleX(1.0421) rotate(0.03deg);">-60%</div>
<div class="t" style="font-size:10.7px;transform:translate(31.30px,420.33px) scaleX(0.8749) rotate(0.03deg);">EPS</div>
<div class="t" style="font-size:10.7px;transform:translate(52.90px,420.33px) scaleX(1.1705) rotate(0.03deg);">attributable</div>
<div class="t" style="font-size:10.7px;transform:translate(117.70px,420.33px) scaleX(1.2352) rotate(0.03deg);">to</div>
<div class="t" style="font-size:10.7px;transform:translate(131.61px,420.33px) scaleX(1.1228) rotate(0.03deg);">common</div>
<div class="t" style="font-size:10.7px;transform:translate(180.52px,420.33px) scaleX(1.1011) rotate(0.03deg);">stockholders,</div>
<div class="t" style="font-size:10.7px;transform:translate(252.74px,420.33px) scaleX(1.1635) rotate(0.03deg);">diluted</div>
<div class="t" style="font-size:10.7px;transform:translate(292.28px,420.33px) scaleX(1.0527) rotate(0.03deg);">(non-GAAP)</div>
<div class="t" style="font-size:6.7px;transform:translate(357.80px,416.72px) scaleX(1.0978) rotate(0.03deg);color:#2a2a2a;">(1) (3)</div>
<div class="t" style="font-size:10.7px;transform:translate(530.79px,420.33px) scaleX(1.0887) rotate(0.03deg);">0.60</div>
<div class="t" style="font-size:10.7px;transform:translate(628.69px,420.33px) scaleX(1.0887) rotate(0.03deg);">0.27</div>
<div class="t" style="font-size:10.7px;transform:translate(726.59px,420.33px) scaleX(1.0887) rotate(0.03deg);">0.40</div>
<div class="t" style="font-size:10.7px;transform:translate(825.29px,420.33px) scaleX(1.0887) rotate(0.03deg);">0.50</div>
<div class="t" style="font-size:10.7px;transform:translate(922.59px,420.33px) scaleX(1.0887) rotate(0.03deg);">0.50</div>
<div class="t" style="font-size:10.7px;transform:translate(1017.30px,420.33px) scaleX(1.0421) rotate(0.03deg);">-17%</div>
<div class="t" style="font-size:10.7px;transform:translate(31.30px,457.15px) scaleX(1.1351) rotate(0.03deg);">Net</div>
<div class="t" style="font-size:10.7px;transform:translate(53.08px,457.15px) scaleX(1.0293) rotate(0.03deg);">cash</div>
<div class="t" style="font-size:10.7px;transform:translate(79.21px,457.15px) scaleX(1.1318) rotate(0.03deg);">provided</div>
<div class="t" style="font-size:10.7px;transform:translate(128.50px,457.15px) scaleX(1.1064) rotate(0.03deg);">by</div>
<div class="t" style="font-size:10.7px;transform:translate(143.89px,457.15px) scaleX(1.1291) rotate(0.03deg);">operating</div>
<div class="t" style="font-size:10.7px;transform:translate(197.11px,457.15px) scaleX(1.1228) rotate(0.03deg);">activities</div>
<div class="t" style="font-size:10.7px;transform:translate(524.35px,457.15px) scaleX(1.0878) rotate(0.03deg);">4,814</div>
<div class="t" style="font-size:10.7px;transform:translate(622.25px,457.15px) scaleX(1.0878) rotate(0.03deg);">2,156</div>
<div class="t" style="font-size:10.7px;transform:translate(720.15px,457.15px) scaleX(1.0878) rotate(0.03deg);">2,540</div>
<div class="t" style="font-size:10.7px;transform:translate(818.85px,457.15px) scaleX(1.0878) rotate(0.03deg);">6,238</div>
<div class="t" style="font-size:10.7px;transform:translate(916.15px,457.15px) scaleX(1.0878) rotate(0.03deg);">3,813</div>
<div class="t" style="font-size:10.7px;transform:translate(1017.30px,457.15px) scaleX(1.0421) rotate(0.03deg);">-21%</div>
<div class="t" style="font-size:10.7px;transform:translate(31.30px,475.56px) scaleX(1.0792) rotate(0.03deg);">Capital</div>
<div class="t" style="font-size:10.7px;transform:translate(70.11px,475.56px) scaleX(1.1133) rotate(0.03deg);">expenditures</div>
<div class="t" style="font-size:6.7px;transform:translate(141.50px,471.95px) scaleX(1.1603) rotate(0.03deg);color:#2a2a2a;">(4)</div>
<div class="t" style="font-size:10.7px;transform:translate(516.60px,475.56px) scaleX(1.0878) rotate(0.03deg);">(2,780)</div>
<div class="t" style="font-size:10.7px;transform:translate(614.50px,475.56px) scaleX(1.0878) rotate(0.03deg);">(1,492)</div>
<div class="t" style="font-size:10.7px;transform:translate(712.40px,475.56px) scaleX(1.0878) rotate(0.03deg);">(2,394)</div>
<div class="t" style="font-size:10.7px;transform:translate(811.10px,475.56px) scaleX(1.0878) rotate(0.03deg);">(2,248)</div>
<div class="t" style="font-size:10.7px;transform:translate(908.40px,475.56px) scaleX(1.0878) rotate(0.03deg);">(2,393)</div>
<div class="t" style="font-size:10.7px;transform:translate(1017.30px,475.56px) scaleX(1.0421) rotate(0.03deg);">-14%</div>
<div class="t" style="font-size:10.7px;transform:translate(31.30px,493.97px) scaleX(1.0483) rotate(0.03deg);">Free</div>
<div class="t" style="font-size:10.7px;transform:translate(57.23px,493.97px) scaleX(1.0293) rotate(0.03deg);">cash</div>
<div class="t" style="font-size:10.7px;transform:translate(83.36px,493.97px) scaleX(1.1942) rotate(0.03deg);">flow</div>
<div class="t" style="font-size:6.7px;transform:translate(109.50px,490.36px) scaleX(1.1603) rotate(0.03deg);color:#2a2a2a;">(4)</div>
<div class="t" style="font-size:10.7px;transform:translate(524.35px,493.97px) scaleX(1.0878) rotate(0.03deg);">2,034</div>
<div class="t" style="font-size:10.7px;transform:translate(631.92px,493.97px) scaleX(1.0890) rotate(0.03deg);">664</div>
<div class="t" style="font-size:10.7px;transform:translate(729.82px,493.97px) scaleX(1.0890) rotate(0.03deg);">146</div>
<div class="t" style="font-size:10.7px;transform:translate(818.85px,493.97px) scaleX(1.0878) rotate(0.03deg);">3,990</div>
<div class="t" style="font-size:10.7px;transform:translate(916.15px,493.97px) scaleX(1.0878) rotate(0.03deg);">1,420</div>
<div class="t" style="font-size:10.7px;transform:translate(1017.30px,493.97px) scaleX(1.0421) rotate(0.03deg);">-30%</div>
<div class="t" style="font-size:10.7px;transform:translate(31.30px,512.38px) scaleX(0.9970) rotate(0.03deg);">Cash,</div>
<div class="t" style="font-size:10.7px;transform:translate(62.03px,512.38px) scaleX(1.0293) rotate(0.03deg);">cash</div>
<div class="t" style="font-size:10.7px;transform:translate(88.15px,512.38px) scaleX(1.1077) rotate(0.03deg);">equivalents</div>
<div class="t" style="font-size:10.7px;transform:translate(150.94px,512.38px) scaleX(1.0957) rotate(0.03deg);">and</div>
<div class="t" style="font-size:10.7px;transform:translate(173.38px,512.38px) scaleX(1.1155) rotate(0.03deg);">investments</div>
<div class="t" style="font-size:10.7px;transform:translate(517.87px,512.38px) scaleX(1.0878) rotate(0.03deg);">36,563</div>
<div class="t" style="font-size:10.7px;transform:translate(615.77px,512.38px) scaleX(1.0878) rotate(0.03deg);">36,996</div>
<div class="t" style="font-size:10.7px;transform:translate(713.67px,512.38px) scaleX(1.0878) rotate(0.03deg);">36,782</div>
<div class="t" style="font-size:10.7px;transform:translate(812.37px,512.38px) scaleX(1.0878) rotate(0.03deg);">41,647</div>
<div class="t" style="font-size:10.7px;transform:translate(909.67px,512.38px) scaleX(1.0878) rotate(0.03deg);">44,059</div>
<div class="t" style="font-size:10.7px;transform:translate(1021.21px,512.38px) scaleX(1.0320) rotate(0.03deg);">21%</div>
<div class="t" style="font-size:5.2px;transform:translate(26.30px,532.85px) scaleX(0.9773) rotate(0.03deg);color:#dedede;">(1)</div>
<div class="t" style="font-size:8.4px;transform:translate(35.40px,534.74px) scaleX(0.9894) rotate(0.03deg);color:#dedede;">As</div>
<div class="t" style="font-size:8.4px;transform:translate(47.33px,534.74px) scaleX(1.0232) rotate(0.03deg);color:#dedede;">a</div>
<div class="t" style="font-size:8.4px;transform:translate(54.37px,534.74px) scaleX(1.1338) rotate(0.03deg);color:#dedede;">result</div>
<div class="t" style="font-size:8.4px;transform:translate(79.85px,534.74px) scaleX(1.1869) rotate(0.03deg);color:#dedede;">of</div>
<div class="t" style="font-size:8.4px;transform:translate(90.42px,534.74px) scaleX(1.1626) rotate(0.03deg);color:#dedede;">the</div>
<div class="t" style="font-size:8.4px;transform:translate(106.22px,534.74px) scaleX(1.1409) rotate(0.03deg);color:#dedede;">adoption</div>
<div class="t" style="font-size:8.4px;transform:translate(145.15px,534.74px) scaleX(1.1869) rotate(0.03deg);color:#dedede;">of</div>
<div class="t" style="font-size:8.4px;transform:translate(155.72px,534.74px) scaleX(1.1626) rotate(0.03deg);color:#dedede;">the</div>
<div class="t" style="font-size:8.4px;transform:translate(171.52px,534.74px) scaleX(1.1280) rotate(0.03deg);color:#dedede;">new</div>
<div class="t" style="font-size:8.4px;transform:translate(191.12px,534.74px) scaleX(1.1426) rotate(0.03deg);color:#dedede;">crypto</div>
<div class="t" style="font-size:8.4px;transform:translate(219.45px,534.74px) scaleX(1.0240) rotate(0.03deg);color:#dedede;">assets</div>
<div class="t" style="font-size:8.4px;transform:translate(246.50px,534.74px) scaleX(1.1027) rotate(0.03deg);color:#dedede;">standard,</div>
<div class="t" style="font-size:8.4px;transform:translate(287.26px,534.74px) scaleX(1.1626) rotate(0.03deg);color:#dedede;">the</div>
<div class="t" style="font-size:8.4px;transform:translate(303.07px,534.74px) scaleX(1.1056) rotate(0.03deg);color:#dedede;">previously</div>
<div class="t" style="font-size:8.4px;transform:translate(347.03px,534.74px) scaleX(1.1532) rotate(0.03deg);color:#dedede;">reported</div>
<div class="t" style="font-size:8.4px;transform:translate(385.27px,534.74px) scaleX(1.1457) rotate(0.03deg);color:#dedede;">quarterly</div>
<div class="t" style="font-size:8.4px;transform:translate(424.87px,534.74px) scaleX(1.1063) rotate(0.03deg);color:#dedede;">periods</div>
<div class="t" style="font-size:8.4px;transform:translate(457.51px,534.74px) scaleX(1.1535) rotate(0.03deg);color:#dedede;">in</div>
<div class="t" style="font-size:8.4px;transform:translate(467.30px,534.74px) scaleX(1.0854) rotate(0.03deg);color:#dedede;">2024</div>
<div class="t" style="font-size:8.4px;transform:translate(489.79px,534.74px) scaleX(1.0729) rotate(0.03deg);color:#dedede;">have</div>
<div class="t" style="font-size:8.4px;transform:translate(511.55px,534.74px) scaleX(1.0954) rotate(0.03deg);color:#dedede;">been</div>
<div class="t" style="font-size:8.4px;transform:translate(534.22px,534.74px) scaleX(1.0824) rotate(0.03deg);color:#dedede;">recast.</div>
<div class="t" style="font-size:5.2px;transform:translate(26.30px,545.80px) scaleX(0.9773) rotate(0.03deg);color:#dedede;">(2)</div>
<div class="t" style="font-size:8.4px;transform:translate(35.40px,547.69px) scaleX(1.0761) rotate(0.03deg);color:#dedede;">Beginning</div>
<div class="t" style="font-size:8.4px;transform:translate(77.76px,547.69px) scaleX(1.1535) rotate(0.03deg);color:#dedede;">in</div>
<div class="t" style="font-size:8.4px;transform:translate(87.55px,547.69px) scaleX(1.0885) rotate(0.03deg);color:#dedede;">Q1'25,</div>
<div class="t" style="font-size:8.4px;transform:translate(116.39px,547.69px) scaleX(1.1077) rotate(0.03deg);color:#dedede;">Adjusted</div>
<div class="t" style="font-size:8.4px;transform:translate(154.75px,547.69px) scaleX(0.9783) rotate(0.03deg);color:#dedede;">EBITDA</div>
<div class="t" style="font-size:8.4px;transform:translate(186.60px,547.69px) scaleX(1.0489) rotate(0.03deg);color:#dedede;">(non-GAAP)</div>
<div class="t" style="font-size:8.4px;transform:translate(236.71px,547.69px) scaleX(1.0216) rotate(0.03deg);color:#dedede;">is</div>
<div class="t" style="font-size:8.4px;transform:translate(245.16px,547.69px) scaleX(1.1101) rotate(0.03deg);color:#dedede;">presented</div>
<div class="t" style="font-size:8.4px;transform:translate(288.77px,547.69px) scaleX(1.1626) rotate(0.03deg);color:#dedede;">net</div>
<div class="t" style="font-size:8.4px;transform:translate(304.58px,547.69px) scaleX(1.1869) rotate(0.03deg);color:#dedede;">of</div>
<div class="t" style="font-size:8.4px;transform:translate(315.14px,547.69px) scaleX(1.1391) rotate(0.03deg);color:#dedede;">digital</div>
<div class="t" style="font-size:8.4px;transform:translate(342.33px,547.69px) scaleX(1.0240) rotate(0.03deg);color:#dedede;">assets</div>
<div class="t" style="font-size:8.4px;transform:translate(369.39px,547.69px) scaleX(1.0441) rotate(0.03deg);color:#dedede;">gains</div>
<div class="t" style="font-size:8.4px;transform:translate(392.56px,547.69px) scaleX(1.0917) rotate(0.03deg);color:#dedede;">and</div>
<div class="t" style="font-size:8.4px;transform:translate(410.08px,547.69px) scaleX(1.0202) rotate(0.03deg);color:#dedede;">losses</div>
<div class="t" style="font-size:8.4px;transform:translate(436.57px,547.69px) scaleX(1.0917) rotate(0.03deg);color:#dedede;">and</div>
<div class="t" style="font-size:8.4px;transform:translate(454.09px,547.69px) scaleX(1.1157) rotate(0.03deg);color:#dedede;">all</div>
<div class="t" style="font-size:8.4px;transform:translate(465.71px,547.69px) scaleX(1.1783) rotate(0.03deg);color:#dedede;">prior</div>
<div class="t" style="font-size:8.4px;transform:translate(487.72px,547.69px) scaleX(1.1063) rotate(0.03deg);color:#dedede;">periods</div>
<div class="t" style="font-size:8.4px;transform:translate(520.37px,547.69px) scaleX(1.0729) rotate(0.03deg);color:#dedede;">have</div>
<div class="t" style="font-size:8.4px;transform:translate(542.12px,547.69px) scaleX(1.0954) rotate(0.03deg);color:#dedede;">been</div>
<div class="t" style="font-size:8.4px;transform:translate(564.79px,547.69px) scaleX(1.1068) rotate(0.03deg);color:#dedede;">adjusted.</div>
<div class="t" style="font-size:5.2px;transform:translate(26.30px,558.75px) scaleX(0.9773) rotate(0.03deg);color:#dedede;">(3)</div>
<div class="t" style="font-size:8.4px;transform:translate(35.40px,560.64px) scaleX(1.0761) rotate(0.03deg);color:#dedede;">Beginning</div>
<div class="t" style="font-size:8.4px;transform:translate(77.76px,560.64px) scaleX(1.1535) rotate(0.03deg);color:#dedede;">in</div>
<div class="t" style="font-size:8.4px;transform:translate(87.55px,560.64px) scaleX(1.0885) rotate(0.03deg);color:#dedede;">Q1'25,</div>
<div class="t" style="font-size:8.4px;transform:translate(116.39px,560.64px) scaleX(1.1306) rotate(0.03deg);color:#dedede;">Net</div>
<div class="t" style="font-size:8.4px;transform:translate(133.39px,560.64px) scaleX(1.1094) rotate(0.03deg);color:#dedede;">income</div>
<div class="t" style="font-size:8.4px;transform:translate(165.60px,560.64px) scaleX(1.1667) rotate(0.03deg);color:#dedede;">attributable</div>
<div class="t" style="font-size:8.4px;transform:translate(216.20px,560.64px) scaleX(1.2294) rotate(0.03deg);color:#dedede;">to</div>
<div class="t" style="font-size:8.4px;transform:translate(227.07px,560.64px) scaleX(1.1186) rotate(0.03deg);color:#dedede;">common</div>
<div class="t" style="font-size:8.4px;transform:translate(265.26px,560.64px) scaleX(1.0987) rotate(0.03deg);color:#dedede;">stockholders</div>
<div class="t" style="font-size:8.4px;transform:translate(319.17px,560.64px) scaleX(1.0489) rotate(0.03deg);color:#dedede;">(non-GAAP)</div>
<div class="t" style="font-size:8.4px;transform:translate(369.28px,560.64px) scaleX(1.0216) rotate(0.03deg);color:#dedede;">is</div>
<div class="t" style="font-size:8.4px;transform:translate(377.73px,560.64px) scaleX(1.1101) rotate(0.03deg);color:#dedede;">presented</div>
<div class="t" style="font-size:8.4px;transform:translate(421.34px,560.64px) scaleX(1.1626) rotate(0.03deg);color:#dedede;">net</div>
<div class="t" style="font-size:8.4px;transform:translate(437.15px,560.64px) scaleX(1.1869) rotate(0.03deg);color:#dedede;">of</div>
<div class="t" style="font-size:8.4px;transform:translate(447.71px,560.64px) scaleX(1.1391) rotate(0.03deg);color:#dedede;">digital</div>
<div class="t" style="font-size:8.4px;transform:translate(474.90px,560.64px) scaleX(1.0240) rotate(0.03deg);color:#dedede;">assets</div>
<div class="t" style="font-size:8.4px;transform:translate(501.96px,560.64px) scaleX(1.0441) rotate(0.03deg);color:#dedede;">gains</div>
<div class="t" style="font-size:8.4px;transform:translate(525.13px,560.64px) scaleX(1.0917) rotate(0.03deg);color:#dedede;">and</div>
<div class="t" style="font-size:8.4px;transform:translate(542.65px,560.64px) scaleX(1.0202) rotate(0.03deg);color:#dedede;">losses</div>
<div class="t" style="font-size:8.4px;transform:translate(569.14px,560.64px) scaleX(1.0917) rotate(0.03deg);color:#dedede;">and</div>
<div class="t" style="font-size:8.4px;transform:translate(586.66px,560.64px) scaleX(1.1157) rotate(0.03deg);color:#dedede;">all</div>
<div class="t" style="font-size:8.4px;transform:translate(598.28px,560.64px) scaleX(1.1783) rotate(0.03deg);color:#dedede;">prior</div>
<div class="t" style="font-size:8.4px;transform:translate(620.29px,560.64px) scaleX(1.1063) rotate(0.03deg);color:#dedede;">periods</div>
<div class="t" style="font-size:8.4px;transform:translate(652.94px,560.64px) scaleX(1.0729) rotate(0.03deg);color:#dedede;">have</div>
<div class="t" style="font-size:8.4px;transform:translate(674.69px,560.64px) scaleX(1.0954) rotate(0.03deg);color:#dedede;">been</div>
<div class="t" style="font-size:8.4px;transform:translate(697.36px,560.64px) scaleX(1.1068) rotate(0.03deg);color:#dedede;">adjusted.</div>
<div class="t" style="font-size:5.2px;transform:translate(26.30px,571.70px) scaleX(0.9773) rotate(0.03deg);color:#dedede;">(4)</div>
<div class="t" style="font-size:8.4px;transform:translate(35.40px,573.59px) scaleX(1.0761) rotate(0.03deg);color:#dedede;">Beginning</div>
<div class="t" style="font-size:8.4px;transform:translate(77.76px,573.59px) scaleX(1.1535) rotate(0.03deg);color:#dedede;">in</div>
<div class="t" style="font-size:8.4px;transform:translate(87.55px,573.59px) scaleX(1.0885) rotate(0.03deg);color:#dedede;">Q1'25,</div>
<div class="t" style="font-size:8.4px;transform:translate(116.39px,573.59px) scaleX(1.0756) rotate(0.03deg);color:#dedede;">Capital</div>
<div class="t" style="font-size:8.4px;transform:translate(146.69px,573.59px) scaleX(1.1092) rotate(0.03deg);color:#dedede;">expenditures</div>
<div class="t" style="font-size:8.4px;transform:translate(202.16px,573.59px) scaleX(1.0216) rotate(0.03deg);color:#dedede;">is</div>
<div class="t" style="font-size:8.4px;transform:translate(210.61px,573.59px) scaleX(1.1101) rotate(0.03deg);color:#dedede;">presented</div>
<div class="t" style="font-size:8.4px;transform:translate(254.21px,573.59px) scaleX(1.0881) rotate(0.03deg);color:#dedede;">inclusive</div>
<div class="t" style="font-size:8.4px;transform:translate(291.43px,573.59px) scaleX(1.1869) rotate(0.03deg);color:#dedede;">of</div>
<div class="t" style="font-size:8.4px;transform:translate(301.99px,573.59px) scaleX(1.0606) rotate(0.03deg);color:#dedede;">purchases</div>
<div class="t" style="font-size:8.4px;transform:translate(345.23px,573.59px) scaleX(1.1869) rotate(0.03deg);color:#dedede;">of</div>
<div class="t" style="font-size:8.4px;transform:translate(355.79px,573.59px) scaleX(1.0882) rotate(0.03deg);color:#dedede;">energy</div>
<div class="t" style="font-size:8.4px;transform:translate(385.92px,573.59px) scaleX(1.1181) rotate(0.03deg);color:#dedede;">generation</div>
<div class="t" style="font-size:8.4px;transform:translate(432.45px,573.59px) scaleX(1.0917) rotate(0.03deg);color:#dedede;">and</div>
<div class="t" style="font-size:8.4px;transform:translate(449.97px,573.59px) scaleX(1.0893) rotate(0.03deg);color:#dedede;">storage</div>
<div class="t" style="font-size:8.4px;transform:translate(482.66px,573.59px) scaleX(1.0582) rotate(0.03deg);color:#dedede;">systems</div>
<div class="t" style="font-size:8.4px;transform:translate(517.42px,573.59px) scaleX(1.0917) rotate(0.03deg);color:#dedede;">and</div>
<div class="t" style="font-size:8.4px;transform:translate(534.95px,573.59px) scaleX(1.1157) rotate(0.03deg);color:#dedede;">all</div>
<div class="t" style="font-size:8.4px;transform:translate(546.56px,573.59px) scaleX(1.1783) rotate(0.03deg);color:#dedede;">prior</div>
<div class="t" style="font-size:8.4px;transform:translate(568.57px,573.59px) scaleX(1.1063) rotate(0.03deg);color:#dedede;">periods</div>
<div class="t" style="font-size:8.4px;transform:translate(601.22px,573.59px) scaleX(1.0729) rotate(0.03deg);color:#dedede;">have</div>
<div class="t" style="font-size:8.4px;transform:translate(622.97px,573.59px) scaleX(1.0954) rotate(0.03deg);color:#dedede;">been</div>
<div class="t" style="font-size:8.4px;transform:translate(645.65px,573.59px) scaleX(1.1068) rotate(0.03deg);color:#dedede;">adjusted.</div>
<div class="t" style="font-size:7.0px;transform:translate(8.90px,560.42px) scaleX(0.9984) rotate(0.03deg);color:#cfcfcf;">4</div>
<div class="t" style="transform:translate(1004.6px,557.2px);font-size:9px;font-weight:bold;color:#f4f4f4;-webkit-text-stroke:0">T</div>
<div class="t" style="transform:translate(1019.2px,557.2px);font-size:9px;font-weight:bold;color:#f4f4f4;-webkit-text-stroke:0">E</div>
<div class="t" style="transform:translate(1032.6px,557.2px);font-size:9px;font-weight:bold;color:#f4f4f4;-webkit-text-stroke:0">S</div>
<div class="t" style="transform:translate(1046.2px,557.2px);font-size:9px;font-weight:bold;color:#f4f4f4;-webkit-text-stroke:0">L</div>
<div class="t" style="transform:translate(1060.8px,557.2px);font-size:9px;font-weight:bold;color:#ededed;-webkit-text-stroke:0">A</div>
</div>
</body></html>
